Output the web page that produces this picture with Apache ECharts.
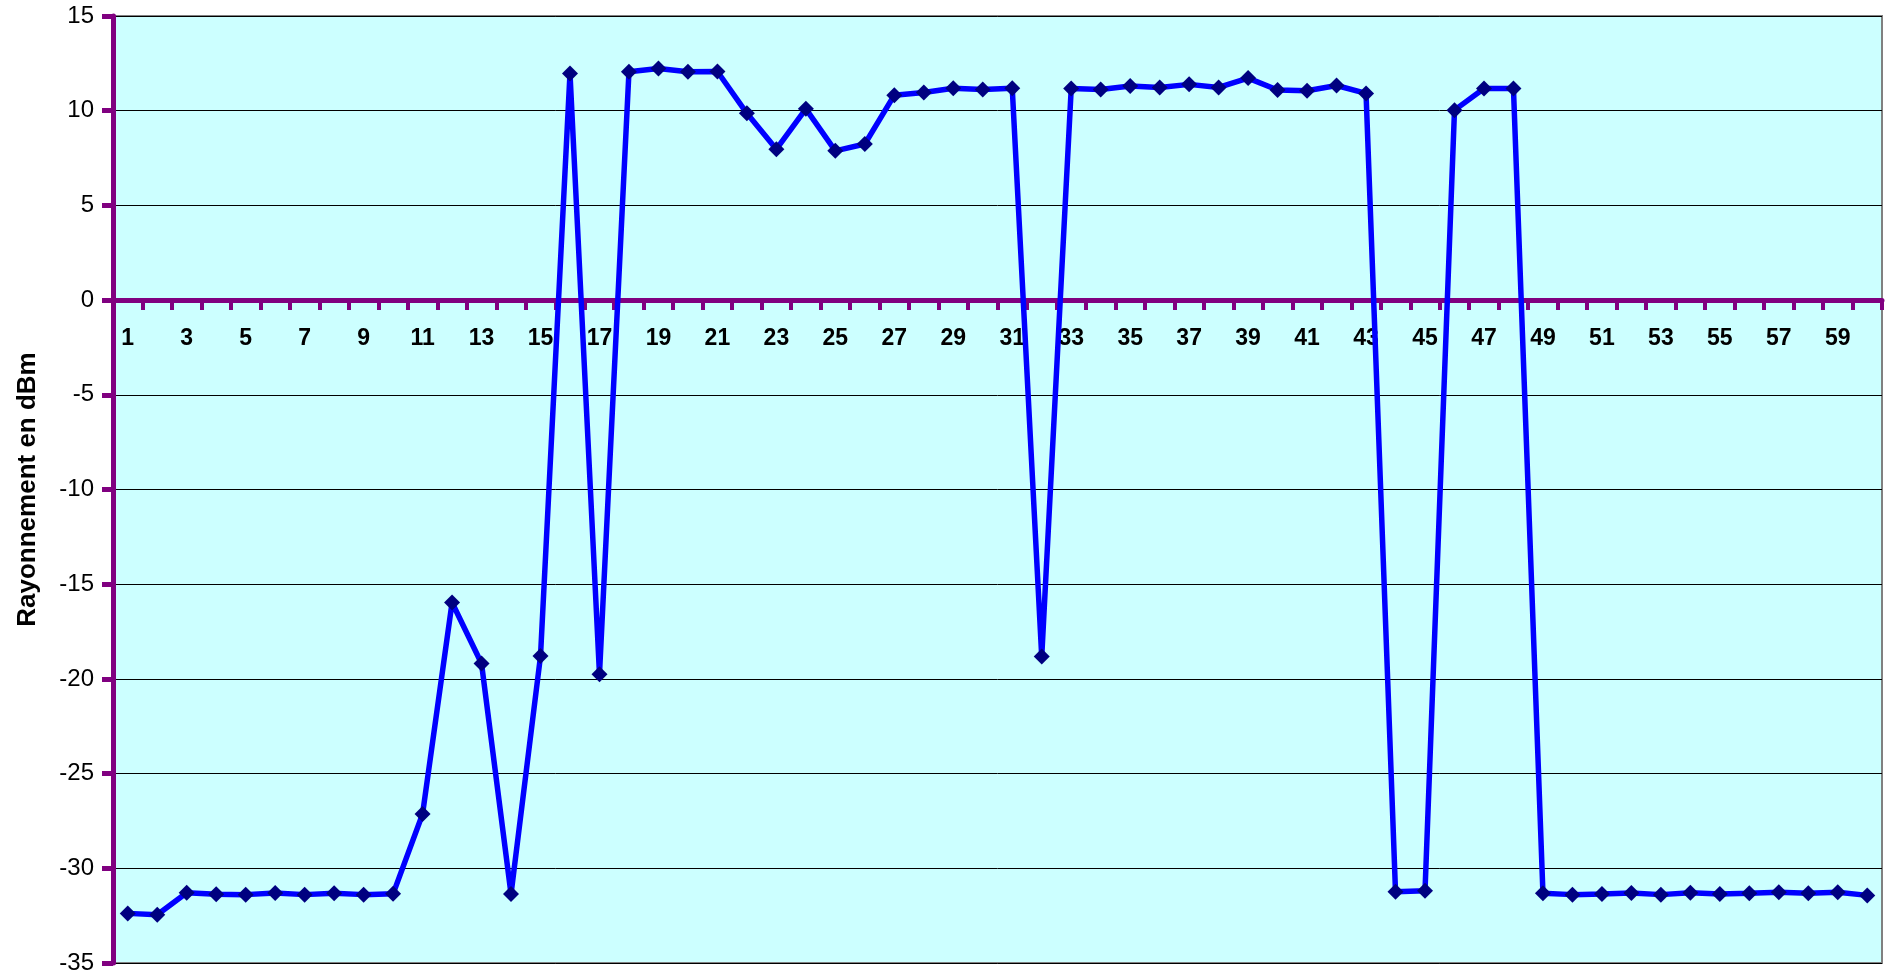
<!DOCTYPE html>
<html>
<head>
<meta charset="utf-8">
<script src="https://cdn.jsdelivr.net/npm/echarts@6/dist/echarts.min.js"></script>
<style>
html,body{margin:0;padding:0;background:#fff;}
#chart{width:1887px;height:978px;}
</style>
</head>
<body>
<div id="chart"></div>
<script>
const categories = Array.from({length: 60}, (_, i) => String(i + 1));
const values = [
  -32.38, -32.45, -31.29, -31.37, -31.39, -31.30, -31.39, -31.32, -31.39, -31.35,
  -27.13, -15.97, -19.19, -31.36, -18.79, 11.97, -19.75, 12.06, 12.23, 12.06,
  12.07, 9.86, 7.97, 10.10, 7.88, 8.24, 10.82, 10.96, 11.19, 11.12,
  11.19, -18.82, 11.17, 11.12, 11.30, 11.23, 11.39, 11.23, 11.72, 11.09,
  11.05, 11.33, 10.91, -31.24, -31.18, 10.03, 11.17, 11.17, -31.32, -31.39,
  -31.36, -31.30, -31.39, -31.29, -31.36, -31.32, -31.27, -31.32, -31.27, -31.43
];
const yAxisTitle = 'Rayonnement en dBm';

const GRID_TOP = 16, GRID_BOTTOM = 15, CH = 978;
const Y_MIN = -35, Y_MAX = 15;
const plotH = CH - GRID_TOP - GRID_BOTTOM;
const zeroOffset = plotH * (0 - Y_MIN) / (Y_MAX - Y_MIN);

const chart = echarts.init(document.getElementById('chart'));
chart.setOption({
  animation: false,
  grid: {
    left: 113, top: GRID_TOP, right: 5, bottom: GRID_BOTTOM,
    containLabel: false, outerBoundsMode: 'none',
    show: true, backgroundColor: '#CCFFFF', borderColor: '#808080', borderWidth: 2
  },
  xAxis: {
    type: 'category',
    data: categories,
    boundaryGap: true,
    position: 'bottom',
    offset: -zeroOffset,
    axisLine: { onZero: false, lineStyle: { color: '#800080', width: 5 } },
    axisTick: { show: true, interval: 0, length: 10, lineStyle: { color: '#800080', width: 4 } },
    axisLabel: { interval: 1, margin: 27, color: '#000', fontFamily: 'Liberation Sans, Arial, sans-serif', fontWeight: 'bold', fontSize: 23 },
    splitLine: { show: false }
  },
  yAxis: {
    type: 'value',
    min: Y_MIN, max: Y_MAX, interval: 5,
    name: yAxisTitle,
    nameLocation: 'middle',
    nameGap: 72,
    nameTextStyle: { color: '#000', fontFamily: 'Liberation Sans, Arial, sans-serif', fontWeight: 'bold', fontSize: 26 },
    axisLine: { show: true, lineStyle: { color: '#800080', width: 5 } },
    axisTick: { show: true, length: 11, lineStyle: { color: '#800080', width: 5 } },
    axisLabel: { margin: 19, color: '#000', fontFamily: 'Liberation Sans, Arial, sans-serif', fontSize: 24 },
    splitLine: { show: true, lineStyle: { color: '#000', width: 1 } }
  },
  series: [{
    type: 'line',
    data: values,
    symbol: 'diamond',
    symbolSize: [16, 16],
    lineStyle: { color: '#0000FF', width: 5.5 },
    itemStyle: { color: '#000080' }
  }]
});
</script>
</body>
</html>
